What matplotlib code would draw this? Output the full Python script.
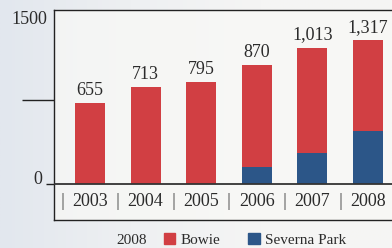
import numpy as np
import matplotlib
matplotlib.use("Agg")
import matplotlib.pyplot as plt
from matplotlib.transforms import blended_transform_factory

# values (bar heights on the 0-1500 axis)
years = ["2003", "2004", "2005", "2006", "2007", "2008"]
bowie = [700, 835, 880, 875, 905, 780]
severna_park = [0, 0, 0, 150, 270, 460]
totals_text = ["655", "713", "795", "870", "1,013", "1,317"]

RED = "#d13f43"
BLUE = "#2c5688"
INK = "#2b2b2b"
FONT = "Liberation Serif"

plt.rcParams["font.family"] = FONT

W, H = 392, 248
fig = plt.figure(figsize=(W / 100, H / 100), dpi=100)

# soft background gradient (bluish grey on the left, off-white to the right)
bg = fig.add_axes([0, 0, 1, 1], zorder=-10)
grad = np.linspace(0, 1, 256)[None, :]
cmap = matplotlib.colors.LinearSegmentedColormap.from_list(
    "bg", ["#e2e7ee", "#eef0f2", "#f5f5f4", "#f6f6f4"])
bg.imshow(grad, aspect="auto", cmap=cmap, extent=[0, 1, 0, 1])
bg.set_axis_off()

# main axes: box from x=54 px, top y=10 px, bottom y=220 px, right edge off canvas
left, right, top, bottom = 54, 400, 10, 220
ax = fig.add_axes([left / W, (H - bottom) / H, (right - left) / W, (bottom - top) / H])
ax.set_facecolor((0.975, 0.975, 0.965, 0.7))

spacing = 55.6
x = np.arange(len(years))
ax.set_xlim((left - 90) / spacing, (right - 90) / spacing)
ax.set_ylim(-310.3, 1500)

width = 30 / spacing
ax.bar(x, severna_park, width, color=BLUE, zorder=2)
ax.bar(x, bowie, width, bottom=severna_park, color=RED, zorder=2)

tot = np.array(bowie) + np.array(severna_park)
for xi, t, s in zip(x, tot, totals_text):
    ax.annotate(s, (xi, t), xytext=(0, 3), textcoords="offset points",
                ha="center", va="bottom", fontsize=13, color=INK)

# baseline
ax.axhline(0, color="#333333", lw=1.3, zorder=3)

for side in ["left", "top", "bottom"]:
    ax.spines[side].set_color("#222222")
    ax.spines[side].set_linewidth(1.0)
ax.spines["right"].set_visible(False)

# y ticks: short tick at 0, long tick in the middle, labels drawn as text
ax.set_yticks([0])
ax.set_yticklabels([])
ax.set_yticks([725], minor=True)
ax.tick_params(axis="y", which="major", length=6, width=1.0, color="#222222")
ax.tick_params(axis="y", which="minor", length=23, width=1.0, color="#222222")
ax.set_xticks([])

trans = blended_transform_factory(ax.transAxes, ax.transData)
ax.annotate("0", (0, 0), xycoords=trans, xytext=(-8.5, 3.5),
            textcoords="offset points", ha="right", va="center",
            fontsize=13, color=INK)
ax.annotate("1500", (0, 1500), xycoords=trans, xytext=(-5, -6.5),
            textcoords="offset points", ha="right", va="center",
            fontsize=13, color=INK)

# year labels with separators
ylab = -310.3 + (220 - 202) * 1500 / 174
for xi, yr in zip(x, years):
    ax.text(xi, ylab, yr, ha="center", va="center", fontsize=13, color=INK)
for sx in np.arange(-0.5, len(years) - 1, 1.0):
    ax.text(sx, ylab, "|", ha="center", va="center", fontsize=14, color="#555555")

# legend
fig.text(132 / W, 1 - 240 / H, "2008", ha="center", va="center",
         fontsize=11, color=INK)
handles = [matplotlib.patches.Patch(color=RED), matplotlib.patches.Patch(color=BLUE)]
fig.legend(handles, ["Bowie", "Severna Park"], loc="center left",
           bbox_to_anchor=(164 / W, 1 - 240 / H), ncol=2, frameon=False,
           fontsize=11, handlelength=0.75, handleheight=0.75,
           handletextpad=0.35, columnspacing=1.8, borderpad=0,
           borderaxespad=0, labelcolor=INK)

fig.savefig("out.png", dpi=100)
